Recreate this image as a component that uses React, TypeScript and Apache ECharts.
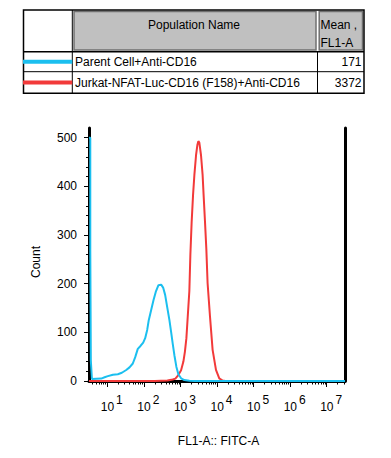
import React, { useEffect, useRef } from 'react';
import * as echarts from 'echarts';

// ---------- data ----------
// x values are log10(FL1-A intensity), y values are event counts
const parentLog = [0.5, 0.535, 0.535, 0.55, 0.55, 0.565, 0.58, 0.7, 0.836, 0.926, 1.016, 1.153, 1.289, 1.398, 1.518, 1.608, 1.698, 1.764, 1.834, 1.908, 1.982, 2.036, 2.091, 2.134, 2.2, 2.263, 2.325, 2.399, 2.473, 2.527, 2.582, 2.636, 2.699, 2.745, 2.789, 2.835, 2.89, 2.944, 3.018, 3.108, 3.244, 3.4, 7.5];
const parentCount = [500, 500, 270, 270, 42, 42, 4, 4.7, 5, 7.6, 10, 13, 14, 17, 22.6, 28, 36, 49, 66, 72, 79, 88, 105, 125, 146, 166, 183, 197, 198, 192, 177, 153, 125, 101, 77, 53, 29, 14, 5.5, 2, 0.5, 0, 0];

const jurkatLog = [0.5, 2.3, 2.644, 2.789, 2.862, 2.931, 3.018, 3.081, 3.122, 3.163, 3.198, 3.244, 3.272, 3.307, 3.345, 3.381, 3.427, 3.463, 3.49, 3.517, 3.563, 3.607, 3.634, 3.672, 3.708, 3.743, 3.809, 3.88, 3.972, 4.062, 4.152, 4.226, 7.5];
const jurkatCount = [0, 0, 1, 3, 5, 11, 22, 40, 60, 88, 130, 185, 260, 327, 382, 423, 464, 485, 493, 490, 464, 423, 382, 327, 272, 201, 132, 64, 23, 5.5, 1, 0, 0];

const populationNames = ['Parent Cell+Anti-CD16', 'Jurkat-NFAT-Luc-CD16 (F158)+Anti-CD16'];
const meanValues = ['171', '3372'];
const seriesColors = ['#1BBFEF', '#F23A3A'];

const xMajorExponents = [1, 2, 3, 4, 5, 6, 7];
const yMajorTicks = [0, 100, 200, 300, 400, 500];
const yMinorTicks = [20, 40, 60, 80, 120, 140, 160, 180, 220, 240, 260, 280, 320, 340, 360, 380, 420, 440, 460, 480];
const xMinorTicks: number[] = [];
for (let n = 0; n <= 7; n++) {
  for (let k = 2; k <= 9; k++) {
    const v = Math.log10(k) + n;
    if (v > 0.5 && v < 7.5) xMinorTicks.push(v);
  }
}

const FONT = '"Liberation Sans", Arial, Helvetica, sans-serif';

function buildTable(): any[] {
  const els: any[] = [];
  const L = 23.5, R = 364, T = 10, B = 93.3;
  const c1 = 72.3, c2 = 317.5;
  const h1 = 51.7, h2 = 71.7;
  // header gray cells
  els.push({ type: 'rect', shape: { x: 74, y: 11.5, width: 242, height: 38.5 }, style: { fill: '#c0c0c0', stroke: '#707070', lineWidth: 1.5 } });
  els.push({ type: 'rect', shape: { x: 319.2, y: 11.5, width: 43.3, height: 38.5 }, style: { fill: '#c0c0c0', stroke: '#707070', lineWidth: 1.5 } });
  // grid lines
  els.push({ type: 'rect', shape: { x: L, y: T, width: R - L, height: B - T }, style: { fill: 'none', stroke: '#000', lineWidth: 1.5 } });
  els.push({ type: 'line', shape: { x1: c1, y1: T, x2: c1, y2: B }, style: { stroke: '#000', lineWidth: 1 } });
  els.push({ type: 'line', shape: { x1: c2, y1: h1, x2: c2, y2: B }, style: { stroke: '#000', lineWidth: 1 } });
  els.push({ type: 'line', shape: { x1: L, y1: h1, x2: R, y2: h1 }, style: { stroke: '#000', lineWidth: 1.5 } });
  els.push({ type: 'line', shape: { x1: L, y1: h2, x2: R, y2: h2 }, style: { stroke: '#000', lineWidth: 1 } });
  // header texts
  els.push({ type: 'text', style: { text: 'Population Name', x: 194, y: 24.5, align: 'center', verticalAlign: 'middle', font: `12px ${FONT}`, fill: '#000' } });
  els.push({ type: 'text', style: { text: 'Mean ,', x: 320.5, y: 24.5, align: 'left', verticalAlign: 'middle', font: `12px ${FONT}`, fill: '#000' } });
  els.push({ type: 'text', style: { text: 'FL1-A', x: 320.5, y: 42.7, align: 'left', verticalAlign: 'middle', font: `12px ${FONT}`, fill: '#000' } });
  const rowY = [61.7, 83];
  const lineY = [61.7, 82.4];
  populationNames.forEach((name, i) => {
    els.push({ type: 'rect', shape: { x: 23, y: lineY[i] - 2, width: 49.3, height: 4 }, style: { fill: seriesColors[i] } });
    els.push({ type: 'text', style: { text: name, x: 75, y: rowY[i], align: 'left', verticalAlign: 'middle', font: `12px ${FONT}`, fill: '#000' } });
    els.push({ type: 'text', style: { text: meanValues[i], x: 361.5, y: rowY[i], align: 'right', verticalAlign: 'middle', font: `12px ${FONT}`, fill: '#000' } });
  });
  // axis titles
  els.push({ type: 'text', x: 36, y: 262, rotation: Math.PI / 2, style: { text: 'Count', x: 0, y: 0, align: 'center', verticalAlign: 'middle', font: `12px ${FONT}`, fill: '#000' } });
  els.push({ type: 'text', style: { text: 'FL1-A:: FITC-A', x: 218.5, y: 440.5, align: 'center', verticalAlign: 'middle', font: `12px ${FONT}`, fill: '#000' } });
  return els;
}

export default function App() {
  const ref = useRef<HTMLDivElement>(null);
  useEffect(() => {
    if (!ref.current) return;
    const chart = echarts.init(ref.current, undefined, { renderer: 'svg' });
    const gridTop = 128;
    const zeroY = 381;
    chart.setOption({
      animation: false,
      backgroundColor: '#fff',
      textStyle: { fontFamily: FONT },
      grid: { left: 89, right: 46, top: gridTop, bottom: 458 - zeroY, containLabel: false },
      xAxis: [
        {
          type: 'value', min: 0.5, max: 7.5, position: 'bottom', offset: 2,
          axisLine: { show: true, lineStyle: { color: '#000', width: 3 } },
          axisTick: { show: true, inside: false, length: 6, lineStyle: { color: '#000', width: 1 }, customValues: xMajorExponents },
          axisLabel: {
            show: true, margin: 10, customValues: xMajorExponents, padding: [0, 0, 0, 9],
            formatter: (v: number) => `{b|10}{e|${v}}`,
            rich: {
              b: { fontSize: 12, fontFamily: FONT, color: '#000', padding: [8, 0, 0, 0] },
              e: { fontSize: 12, fontFamily: FONT, color: '#000', padding: [0, 0, 6, 2] },
            },
          },
          splitLine: { show: false },
        },
        {
          type: 'value', min: 0.5, max: 7.5, position: 'bottom', offset: 2,
          axisLine: { show: false },
          axisTick: { show: true, inside: false, length: 3.5, lineStyle: { color: '#000', width: 1 }, customValues: xMinorTicks },
          axisLabel: { show: false },
          splitLine: { show: false },
        },
        {
          type: 'value', min: 0.5, max: 7.5, position: 'top',
          axisLine: { show: true, lineStyle: { color: '#000', width: 1.5 } },
          axisTick: { show: false }, axisLabel: { show: false }, splitLine: { show: false },
        },
      ],
      yAxis: [
        {
          type: 'value', min: 0, max: 520, position: 'left',
          axisLine: { show: true, lineStyle: { color: '#000', width: 3 } },
          axisTick: { show: true, inside: false, length: 5, lineStyle: { color: '#000', width: 1 }, customValues: yMajorTicks },
          axisLabel: { show: true, margin: 12, customValues: yMajorTicks, fontSize: 12, fontFamily: FONT, color: '#000' },
          splitLine: { show: false },
        },
        {
          type: 'value', min: 0, max: 520, position: 'left',
          axisLine: { show: false },
          axisTick: { show: true, inside: false, length: 3, lineStyle: { color: '#000', width: 1 }, customValues: yMinorTicks },
          axisLabel: { show: false }, splitLine: { show: false },
        },
        {
          type: 'value', min: 0, max: 520, position: 'right',
          axisLine: { show: true, lineStyle: { color: '#000', width: 3 } },
          axisTick: { show: false }, axisLabel: { show: false }, splitLine: { show: false },
        },
      ],
      series: [
        {
          name: populationNames[1], type: 'line', xAxisIndex: 0, yAxisIndex: 0,
          data: jurkatLog.map((x, i) => [x, jurkatCount[i]]),
          showSymbol: false, symbol: 'none', smooth: false, clip: true, z: 2,
          lineStyle: { color: seriesColors[1], width: 2 },
        },
        {
          name: populationNames[0], type: 'line', xAxisIndex: 0, yAxisIndex: 0,
          data: parentLog.map((x, i) => [x, parentCount[i]]),
          showSymbol: false, symbol: 'none', smooth: false, clip: true, z: 3,
          lineStyle: { color: seriesColors[0], width: 2 },
        },
      ],
      graphic: buildTable(),
    });
    return () => chart.dispose();
  }, []);
  return <div ref={ref} style={{ position: 'fixed', left: 0, top: 0, width: 391, height: 458 }} />;
}
